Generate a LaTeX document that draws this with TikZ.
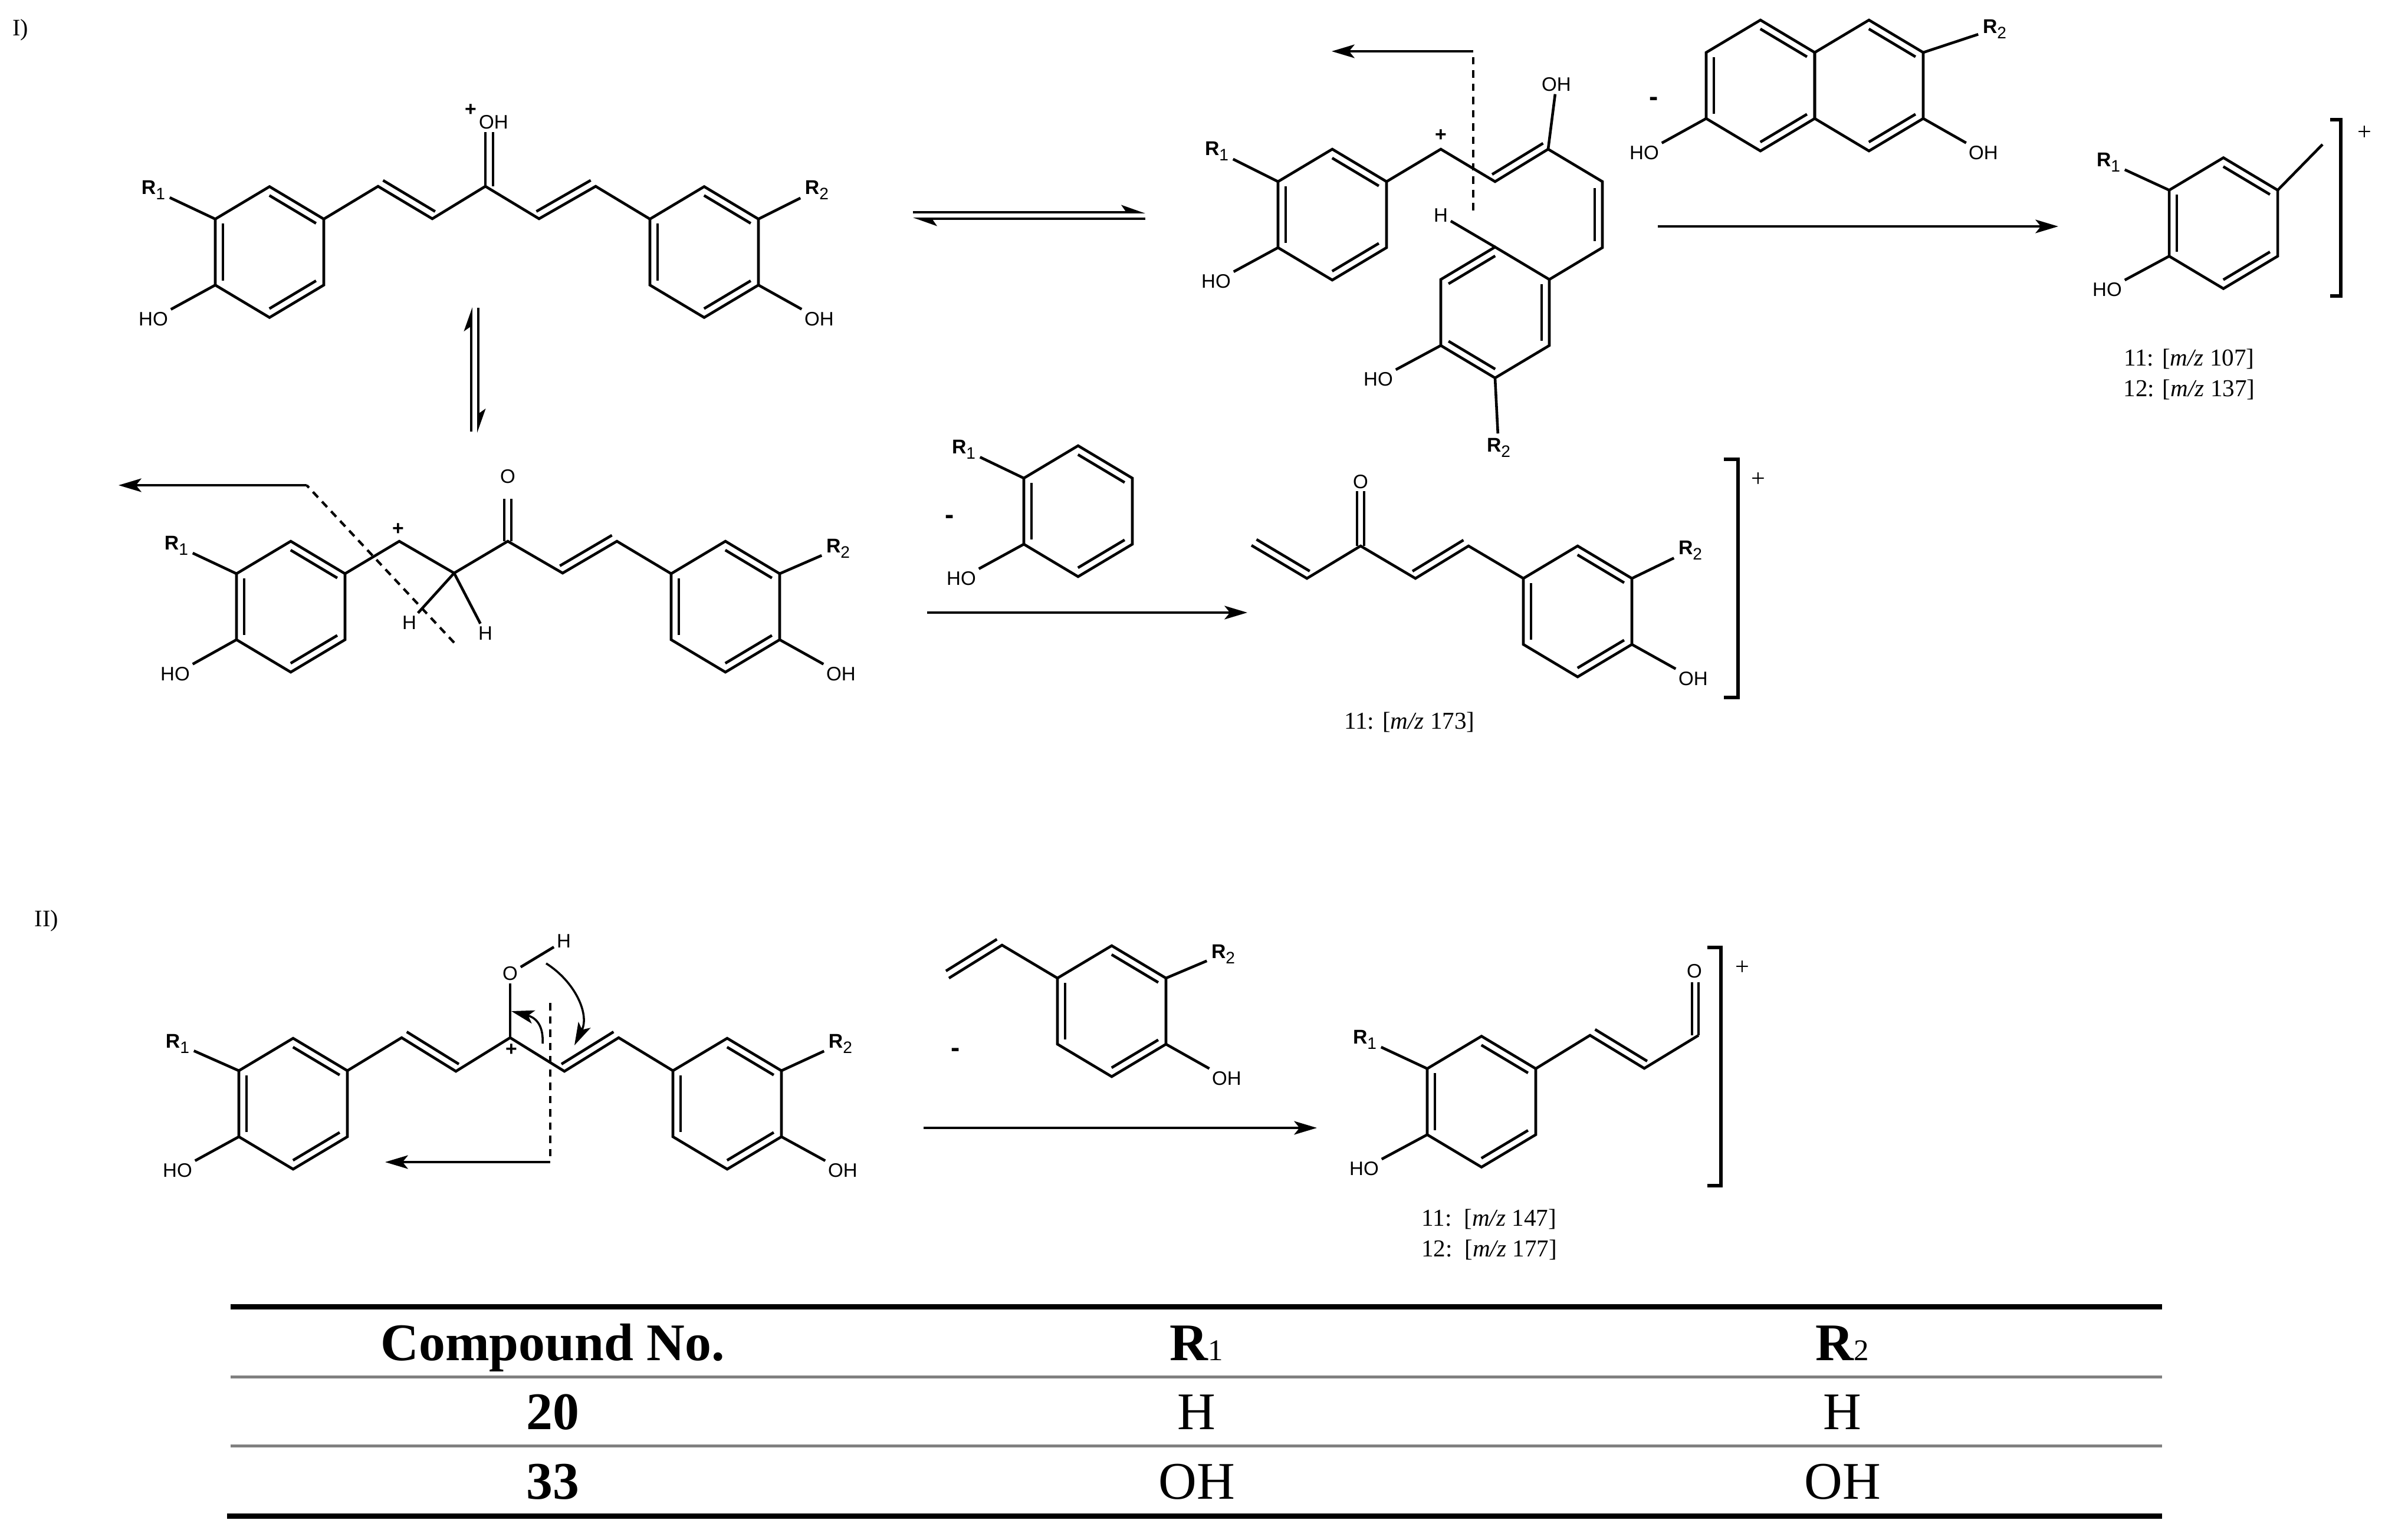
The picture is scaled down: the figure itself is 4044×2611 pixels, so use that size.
\documentclass[tikz,border=0pt]{standalone}
\usepackage{fontspec}
\setmainfont{Liberation Serif}
\newfontfamily\atomfont{Liberation Sans}
\usetikzlibrary{arrows.meta,calc}
% inner line of a double bond
\newcommand{\dbl}[4][.07]{\draw[bond] ($(#2)!#1!(#3)!.13cm!#4:(#3)$) -- ($(#3)!#1!(#2)!.13cm!-#4:(#2)$);}
% six membered ring: name, centre, double bonds
\newcommand{\ringat}[4]{
	\coordinate (#11) at (#2,#3-111);
	\coordinate (#12) at (#2+92,#3-56);
	\coordinate (#13) at (#2+92,#3+56);
	\coordinate (#14) at (#2,#3+111);
	\coordinate (#15) at (#2-92,#3+56);
	\coordinate (#16) at (#2-92,#3-56);
	\draw[bond] (#11) -- (#12) -- (#13) -- (#14) -- (#15) -- (#16) -- cycle;
	\foreach \u/\v in {#4} {\dbl{#1\u}{#1\v}{-90}}
}
% substituent labels
\newcommand{\rsub}[1]{R\raisebox{-2.5pt}{\mdseries\fontsize{8}{8}\selectfont #1}}
\newcommand{\tabsub}[1]{R{\mdseries\fontsize{14.5}{15}\selectfont #1}}
\tikzset{
	bond/.style={line width=1.3pt},
	atom/.style={font=\atomfont\fontsize{9.4}{10}\selectfont,inner sep=1.2pt},
	rgroup/.style={font=\atomfont\bfseries\fontsize{9.6}{10}\selectfont,inner sep=2pt,yshift=-0.03cm},
	charge/.style={font=\atomfont\bfseries\fontsize{9.6}{10}\selectfont,inner sep=0pt},
	minus/.style={font=\atomfont\bfseries\fontsize{13}{14}\selectfont,inner sep=0pt},
	caption/.style={font=\fontsize{11.7}{12}\selectfont,inner sep=0pt},
	pluscharge/.style={font=\fontsize{12}{13}\selectfont,inner sep=0pt},
	panel/.style={font=\fontsize{11.4}{12}\selectfont,inner sep=0pt},
	rarrow/.style={line width=1.2pt,-{Stealth[length=11pt,width=6.5pt,inset=2.6pt]}},
	hookarrow/.style={line width=1.1pt,-{Stealth[harpoon,length=10pt,width=7pt,inset=2.4pt]}},
	cleave/.style={line width=1.2pt,dash pattern=on 3.6pt off 2.8pt},
	bracket/.style={line width=1.6pt},
	tabhead/.style={font=\bfseries\fontsize{25.5}{27}\selectfont,anchor=base,inner sep=0pt},
	tabcell/.style={font=\fontsize{25.5}{27}\selectfont,anchor=base,inner sep=0pt},
	thickrule/.style={line width=2.56pt},
	thinrule/.style={line width=1.42pt,color={rgb,255:red,128;green,128;blue,128}}
}
\begin{document}
\begin{tikzpicture}[x=0.01cm,y=-0.01cm]
	\useasboundingbox (0,0) rectangle (4044,2611);
	\node[panel] (panelone) at (35,51) {I)};
	\node[panel] (paneltwo) at (79,1562) {II)};

	% protonated start
	\ringat{aa}{457}{427.5}{1/2,3/4,5/6}
	\ringat{ab}{1194}{427.5}{1/2,3/4,5/6}
	\node[rgroup] (ar1) at (260,319) {\rsub{1}};
	\node[atom] (aho) at (260,541) {HO};
	\node[rgroup] (ar2) at (1385,319) {\rsub{2}};
	\node[atom] (aoh) at (1389,541) {OH};
	\node[atom] (acoh) at (837,207) {OH};
	\node[charge] (aplus) at (798,187) {+};
	\draw[bond] (aa6) -- (ar1);
	\draw[bond] (aa5) -- (aho);
	\draw[bond] (ab2) -- (ar2);
	\draw[bond] (ab3) -- (aoh);
	\draw[bond] (aa2) -- (641,316) coordinate (a7) -- (733,371) coordinate (a8) -- (823,316) coordinate (a9)
		-- (914,371) coordinate (a10) -- (1010,316) coordinate (a11) -- (ab6);
	\coordinate (a12) at (823,224);
	\draw[bond] (a9) -- (a12);
	\dbl[0]{a9}{a12}{-90}
	\dbl[.02]{a7}{a8}{90}
	\dbl[.02]{a10}{a11}{90}

	% enol form
	\ringat{ca}{2259}{364}{1/2,3/4,5/6}
	\ringat{cb}{2535}{530}{2/3,4/5,6/1}
	\node[rgroup] (cr1) at (2063,253) {\rsub{1}};
	\node[atom] (cho) at (2062,477) {HO};
	\node[atom] (coh) at (2639,143) {OH};
	\node[atom] (chyd) at (2443,365) {H};
	\node[atom] (cohb) at (2337,643) {HO};
	\node[rgroup] (cr2) at (2541,756) {\rsub{2}};
	\node[charge] (cplus) at (2443,230) {+};
	\draw[bond] (ca6) -- (cr1);
	\draw[bond] (ca5) -- (cho);
	\draw[bond] (ca2) -- (2443,253) coordinate (c7) -- (2535,308) coordinate (c8) -- (2625,253) coordinate (c9)
		-- (2717,308) coordinate (c10) -- (2717,420) coordinate (c11) -- (cb2);
	\draw[bond] (c9) -- (coh);
	\draw[bond] (cb1) -- (chyd);
	\draw[bond] (cb5) -- (cohb);
	\draw[bond] (cb4) -- (cr2);
	\dbl[.02]{c8}{c9}{90}
	\dbl[.1]{c10}{c11}{-90}
	\coordinate (cc1) at (2498,357);
	\coordinate (cc2) at (2498,87);
	\coordinate (cc3) at (2258,87);
	\draw[cleave] (cc1) -- (cc2);
	\draw[rarrow] (cc2) -- (cc3);

	% equilibrium arrows
	\coordinate (eqa) at (1548,360);
	\coordinate (eqb) at (1942,360);
	\coordinate (eqc) at (1942,371);
	\coordinate (eqd) at (1548,371);
	\draw[hookarrow] (eqa) -- (eqb);
	\draw[hookarrow] (eqc) -- (eqd);
	\coordinate (eqe) at (799,732);
	\coordinate (eqf) at (799,521);
	\coordinate (eqg) at (811,522);
	\coordinate (eqh) at (811,734);
	\draw[hookarrow] (eqe) -- (eqf);
	\draw[hookarrow] (eqg) -- (eqh);

	% neutral loss, first route
	\ringat{na}{2985}{145}{1/2,3/4,5/6}
	\ringat{nb}{3169}{145}{1/2,3/4}
	\node[rgroup] (nr2) at (3382,46) {\rsub{2}};
	\node[atom] (noh) at (3363,259) {OH};
	\node[atom] (nho) at (2788,259) {HO};
	\node[minus] (nminus) at (2804,172) {-};
	\draw[bond] (nb2) -- (nr2);
	\draw[bond] (nb3) -- (noh);
	\draw[bond] (na5) -- (nho);
	\coordinate (ra) at (2811,384);
	\coordinate (rb) at (3490,384);
	\draw[rarrow] (ra) -- (rb);

	% fragment at m/z 107
	\ringat{fa}{3770}{378.5}{1/2,3/4,5/6}
	\node[rgroup] (fr1) at (3575,272) {\rsub{1}};
	\node[atom] (fho) at (3573,491) {HO};
	\coordinate (fstub) at (3938,245);
	\draw[bond] (fa6) -- (fr1);
	\draw[bond] (fa5) -- (fho);
	\draw[bond] (fa2) -- (fstub);
	\draw[bracket] (3951,203) -- (3969,203) -- (3969,502) -- (3951,502);
	\node[pluscharge] (fplus) at (4009,226) {+};
	\node[caption] (fmza) at (3712,609) {11: [\textit{m/z} 107]};
	\node[caption] (fmzb) at (3712,661) {12: [\textit{m/z} 137]};

	% keto form
	\ringat{ba}{493}{1029}{1/2,3/4,5/6}
	\ringat{bb}{1230}{1029}{1/2,3/4,5/6}
	\node[rgroup] (br1) at (299,922) {\rsub{1}};
	\node[atom] (bho) at (297,1143) {HO};
	\node[rgroup] (br2) at (1421,927) {\rsub{2}};
	\node[atom] (boh) at (1426,1143) {OH};
	\node[atom] (bo) at (861,808) {O};
	\node[atom] (bha) at (694,1056) {H};
	\node[atom] (bhb) at (823,1074) {H};
	\node[charge] (bplus) at (675,898) {+};
	\draw[bond] (ba6) -- (br1);
	\draw[bond] (ba5) -- (bho);
	\draw[bond] (bb2) -- (br2);
	\draw[bond] (bb3) -- (boh);
	\draw[bond] (ba2) -- (677,918) coordinate (b7) -- (770,972) coordinate (b8) -- (861,918) coordinate (b9)
		-- (954,972) coordinate (b10) -- (1046,918) coordinate (b11) -- (bb6);
	\draw[bond] (b8) -- (bha);
	\draw[bond] (b8) -- (bhb);
	\coordinate (b12) at (855,918);
	\coordinate (b13) at (855,846);
	\coordinate (b14) at (867,918);
	\coordinate (b15) at (867,846);
	\draw[bond] (b12) -- (b13);
	\draw[bond] (b14) -- (b15);
	\dbl[.02]{b10}{b11}{90}
	\coordinate (bc1) at (770,1090);
	\coordinate (bc2) at (520,823);
	\coordinate (bc3) at (201,823);
	\draw[cleave] (bc1) -- (bc2);
	\draw[rarrow] (bc2) -- (bc3);

	% loss of the phenol
	\ringat{ea}{1828}{867}{1/2,3/4,5/6}
	\node[rgroup] (er1) at (1634,759) {\rsub{1}};
	\node[atom] (eho) at (1630,981) {HO};
	\node[minus] (eminus) at (1610,881) {-};
	\draw[bond] (ea6) -- (er1);
	\draw[bond] (ea5) -- (eho);
	\coordinate (rc) at (1572,1039);
	\coordinate (rd) at (2115,1039);
	\draw[rarrow] (rc) -- (rd);

	% fragment at m/z 173
	\ringat{ga}{2675}{1037}{1/2,3/4,5/6}
	\node[atom] (go) at (2307,817) {O};
	\node[rgroup] (gr2) at (2866,930) {\rsub{2}};
	\node[atom] (goh) at (2871,1151) {OH};
	\draw[bond] (ga2) -- (gr2);
	\draw[bond] (ga3) -- (goh);
	\draw[bond] (2122,925) coordinate (g1) -- (2216,981) coordinate (g2) -- (2307,926) coordinate (g3)
		-- (2400,981) coordinate (g4) -- (2490,926) coordinate (g5) -- (ga6);
	\dbl[.02]{g1}{g2}{90}
	\dbl[.02]{g4}{g5}{90}
	\coordinate (g6) at (2301,926);
	\coordinate (g7) at (2301,833);
	\coordinate (g8) at (2313,926);
	\coordinate (g9) at (2313,833);
	\draw[bond] (g6) -- (g7);
	\draw[bond] (g8) -- (g9);
	\draw[bracket] (2923,779) -- (2947,779) -- (2947,1183) -- (2923,1183);
	\node[pluscharge] (gplus) at (2981,814) {+};
	\node[caption] (gmz) at (2390,1225) {11: [\textit{m/z} 173]};

	% route II
	\ringat{ha}{497}{1872}{1/2,3/4,5/6}
	\ringat{hb}{1233}{1872}{1/2,3/4,5/6}
	\node[rgroup] (hr1) at (301,1767) {\rsub{1}};
	\node[atom] (hho) at (301,1985) {HO};
	\node[rgroup] (hr2) at (1425,1767) {\rsub{2}};
	\node[atom] (hoh) at (1429,1985) {OH};
	\node[atom] (ho) at (865,1651) {O};
	\node[atom] (hh) at (956,1596) {H};
	\node[charge] (hplus) at (867,1781) {+};
	\draw[bond] (ha6) -- (hr1);
	\draw[bond] (ha5) -- (hho);
	\draw[bond] (hb2) -- (hr2);
	\draw[bond] (hb3) -- (hoh);
	\draw[bond] (ha2) -- (681,1760) coordinate (h7) -- (773,1817) coordinate (h8) -- (865,1760) coordinate (h9)
		-- (957,1817) coordinate (h10) -- (1049,1760) coordinate (h11) -- (hb6);
	\draw[bond] (h9) -- (ho);
	\draw[bond] (ho) -- (hh);
	\dbl[.02]{h7}{h8}{90}
	\dbl[.02]{h10}{h11}{90}
	\coordinate (hc1) at (926,1634);
	\coordinate (hc2) at (974,1773);
	\coordinate (hc3) at (920,1770);
	\coordinate (hc4) at (867,1715);
	\draw[rarrow,line width=1pt] (hc1) .. controls (975,1665) and (1000,1720) .. (hc2);
	\draw[rarrow,line width=1pt] (hc3) .. controls (922,1735) and (905,1725) .. (hc4);
	\coordinate (hc5) at (933,1701);
	\coordinate (hc6) at (933,1971);
	\coordinate (hc7) at (653,1971);
	\draw[cleave] (hc5) -- (hc6);
	\draw[rarrow] (hc6) -- (hc7);

	% loss of the styrene
	\ringat{ka}{1885}{1715}{1/2,3/4,5/6}
	\node[rgroup] (kr2) at (2074,1615) {\rsub{2}};
	\node[atom] (koh) at (2080,1829) {OH};
	\node[minus] (kminus) at (1620,1785) {-};
	\draw[bond] (ka2) -- (kr2);
	\draw[bond] (ka3) -- (koh);
	\draw[bond] (1609,1659) coordinate (k1) -- (1699,1603) coordinate (k2) -- (ka6);
	\dbl[.02]{k1}{k2}{90}
	\coordinate (re) at (1566,1913);
	\coordinate (rf) at (2233,1913);
	\draw[rarrow] (re) -- (rf);

	% fragment at m/z 147
	\ringat{la}{2512}{1868.5}{1/2,3/4,5/6}
	\node[rgroup] (lr1) at (2314,1760) {\rsub{1}};
	\node[atom] (lho) at (2313,1982) {HO};
	\node[atom] (lo) at (2873,1647) {O};
	\draw[bond] (la6) -- (lr1);
	\draw[bond] (la5) -- (lho);
	\draw[bond] (la2) -- (2696,1756) coordinate (l7) -- (2788,1812) coordinate (l8) -- (2880,1756) coordinate (l9);
	\dbl[.02]{l7}{l8}{90}
	\coordinate (l10) at (2880,1666);
	\coordinate (l11) at (2869,1756);
	\coordinate (l12) at (2869,1666);
	\draw[bond] (l9) -- (l10);
	\draw[bond] (l11) -- (l12);
	\draw[bracket] (2895,1607) -- (2918,1607) -- (2918,2011) -- (2895,2011);
	\node[pluscharge] (lplus) at (2954,1642) {+};
	\node[caption] (lmza) at (2525,2068) {11:\enspace[\textit{m/z} 147]};
	\node[caption] (lmzb) at (2525,2120) {12:\enspace[\textit{m/z} 177]};

	% table
	\draw[thickrule] (391,2216.5) -- (3666,2216.5);
	\draw[thinrule] (391,2335.5) -- (3666,2335.5);
	\draw[thinrule] (391,2452.5) -- (3666,2452.5);
	\draw[thickrule] (385,2571.5) -- (3666,2571.5);
	\node[tabhead] (tha) at (937,2307.7) {Compound No.};
	\node[tabhead] (thb) at (2029,2307.7) {\tabsub{1}};
	\node[tabhead] (thc) at (3124,2307.7) {\tabsub{2}};
	\node[tabhead] (tca) at (937,2424.7) {20};
	\node[tabcell] (tcb) at (2029,2424.7) {H};
	\node[tabcell] (tcc) at (3124,2424.7) {H};
	\node[tabhead] (tda) at (937,2542) {33};
	\node[tabcell] (tdb) at (2029,2542) {OH};
	\node[tabcell] (tdc) at (3124,2542) {OH};
\end{tikzpicture}
\end{document}
